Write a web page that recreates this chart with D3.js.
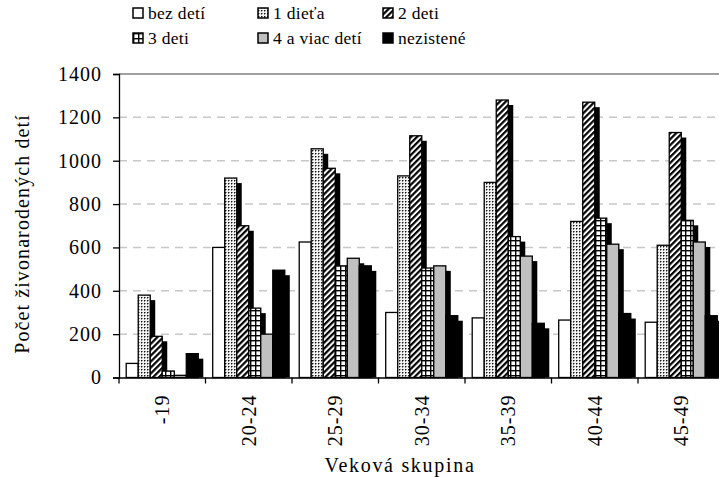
<!DOCTYPE html>
<html><head><meta charset="utf-8">
<script src="https://cdn.jsdelivr.net/npm/d3@7"></script>
<style>
html,body{margin:0;padding:0;background:#fff;}
</style></head>
<body><svg id="c" width="719" height="477"></svg>
<script>
const categories = ["-19","20-24","25-29","30-34","35-39","40-44","45-49"];
const seriesNames = ["bez detí","1 dieťa","2 deti","3 deti","4 a viac detí","nezistené"];
const bezDeti    = [65, 600, 625, 300, 275, 265, 255];
const jednoDieta = [380, 920, 1055, 930, 900, 720, 610];
const dveDeti    = [190, 700, 965, 1115, 1280, 1270, 1130];
const triDeti    = [30, 320, 515, 505, 650, 735, 725];
const styriViac  = [10, 200, 550, 515, 560, 615, 625];
const nezistene  = [110, 495, 515, 285, 250, 295, 285];
const yTicks = [0,200,400,600,800,1000,1200,1400];
const yTitle = "Počet živonarodených detí";
const xTitle = "Veková skupina";

const seriesValues = [bezDeti, jednoDieta, dveDeti, triDeti, styriViac, nezistene];
const fills = ["#fff","url(#pDots)","url(#pDiag)","url(#pGrid)","#c0c0c0","#000"];
const FONT = "'Liberation Serif'";

const svg = d3.select("#c");
const defs = svg.append("defs");
const pd = defs.append("pattern").attr("id","pDots").attr("patternUnits","userSpaceOnUse").attr("width",3).attr("height",3);
pd.append("rect").attr("width",3).attr("height",3).attr("fill","#f2f2f2");
pd.append("rect").attr("x",0).attr("y",0).attr("width",1).attr("height",1).attr("fill","#111");
pd.append("rect").attr("x",1).attr("y",0).attr("width",1).attr("height",1).attr("fill","#888");
pd.append("rect").attr("x",0).attr("y",1).attr("width",1).attr("height",1).attr("fill","#888");
const pg = defs.append("pattern").attr("id","pDiag").attr("patternUnits","userSpaceOnUse").attr("width",4.2).attr("height",10).attr("patternTransform","rotate(45)");
pg.append("rect").attr("width",4.2).attr("height",10).attr("fill","#fff");
pg.append("rect").attr("width",2.2).attr("height",10).attr("fill","#000");
const pq = defs.append("pattern").attr("id","pGrid").attr("patternUnits","userSpaceOnUse").attr("width",5).attr("height",5);
pq.append("rect").attr("width",5).attr("height",5).attr("fill","#fff");
pq.append("rect").attr("width",5).attr("height",1.4).attr("fill","#000");
pq.append("rect").attr("width",1.4).attr("height",5).attr("fill","#000");

const mLeft = 119, mTop = 74, mBottom = 377.5, mRight = 724.5;
const x = d3.scaleBand().domain(categories).range([mLeft, mRight]).paddingInner(0).paddingOuter(0);
const x1 = d3.scaleBand().domain(d3.range(seriesNames.length)).range([0, x.bandwidth()]).paddingInner(0).paddingOuter(0.6);
const y = d3.scaleLinear().domain([0,1400]).range([mBottom, mTop]);

svg.append("g").selectAll("line").data(yTicks.filter(t => t>0 && t<1400)).join("line")
  .attr("x1",mLeft).attr("x2",mRight).attr("y1",d=>y(d)).attr("y2",d=>y(d))
  .attr("stroke","#c8c8c8").attr("stroke-width",1.5).attr("stroke-dasharray","8,6");
svg.append("line").attr("x1",mLeft).attr("x2",mRight).attr("y1",y(1400)).attr("y2",y(1400))
  .attr("stroke","#808080").attr("stroke-width",1.5);

const bw = x1.bandwidth();
const off = 5;
seriesValues.forEach((vals, si) => {
  const g = svg.append("g");
  const data = categories.map((c,i)=>({c, v: vals[i]}));
  g.selectAll("rect.sh").data(data).join("rect").attr("class","sh")
    .attr("x", d => x(d.c) + x1(si) + off)
    .attr("y", d => Math.min(y(d.v) + off, mBottom))
    .attr("width", bw)
    .attr("height", d => Math.max(0, mBottom - y(d.v) - off))
    .attr("fill","#000");
  g.selectAll("rect.b").data(data).join("rect").attr("class","b")
    .attr("x", d => x(d.c) + x1(si))
    .attr("y", d => y(d.v))
    .attr("width", bw)
    .attr("height", d => mBottom - y(d.v))
    .attr("fill", fills[si]).attr("stroke","#000").attr("stroke-width",1.3);
});

function styleText(sel, size, ls) {
  sel.style("font-family", FONT).style("font-size", size + "px").style("letter-spacing", ls + "px").attr("fill","#000");
}

const ya = svg.append("g").attr("transform",`translate(${mLeft},0)`)
  .call(d3.axisLeft(y).tickValues(yTicks).tickSize(6).tickPadding(11).tickFormat(d3.format("d")));
ya.attr("font-family", null).attr("font-size", null);
ya.select(".domain").attr("stroke","#000").attr("stroke-width",1.3);
ya.selectAll(".tick line").attr("stroke","#000").attr("stroke-width",1.3);
styleText(ya.selectAll("text"), 20, 1);

const xa = svg.append("g").attr("transform",`translate(0,${mBottom})`)
  .call(d3.axisBottom(x).tickSize(0).tickPadding(0));
xa.attr("font-family", null).attr("font-size", null);
xa.select(".domain").attr("stroke","#000").attr("stroke-width",1.3);
styleText(xa.selectAll(".tick text"), 20, 1);
xa.selectAll(".tick text")
  .attr("text-anchor","end").attr("dy","0.35em")
  .attr("transform","translate(0,17) rotate(-90)").attr("x",0).attr("y",0);
svg.append("g").selectAll("line").data(categories.concat(["__end"])).join("line")
  .attr("x1", d => d==="__end" ? mRight : x(d)).attr("x2", d => d==="__end" ? mRight : x(d))
  .attr("y1", mBottom).attr("y2", mBottom+6).attr("stroke","#000").attr("stroke-width",1.3);

styleText(svg.append("text").attr("x",400).attr("y",472).attr("text-anchor","middle").text(xTitle), 20, 1.7);
styleText(svg.append("text").attr("transform","translate(29,234) rotate(-90)").attr("text-anchor","middle").text(yTitle), 20, 1.1);

const legX = [133, 258, 383], legY = [13, 38];
seriesNames.forEach((n, i) => {
  const col = i % 3, row = Math.floor(i/3);
  const g = svg.append("g").attr("transform",`translate(${legX[col]},${legY[row]})`);
  g.append("rect").attr("x",0).attr("y",-5).attr("width",10).attr("height",10)
    .attr("fill",fills[i]).attr("stroke","#000").attr("stroke-width",1.5);
  styleText(g.append("text").attr("x",15).attr("y",0).attr("dy","0.35em").text(n), 17.5, 0.3);
});
</script></body></html>
